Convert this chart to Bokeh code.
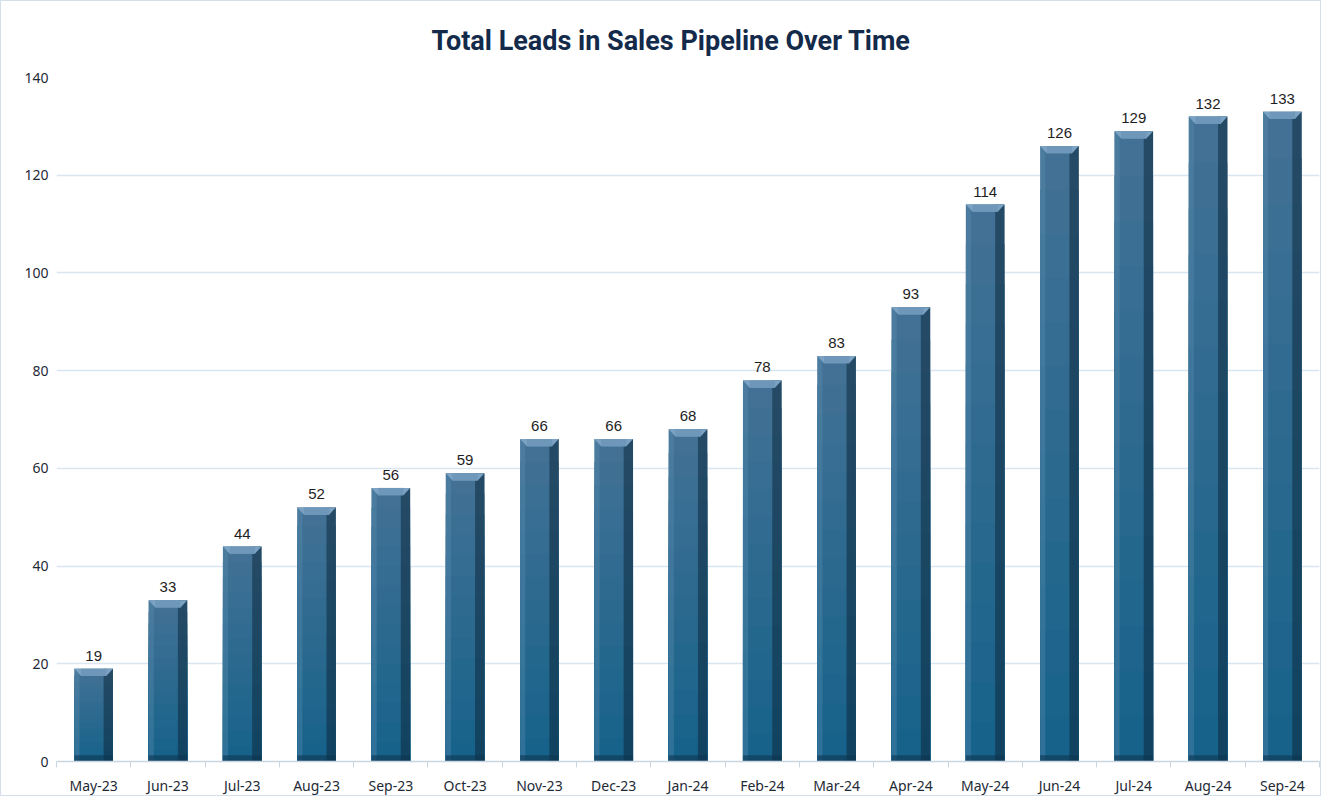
from bokeh.plotting import figure
from bokeh.models import (ColumnDataSource, Range1d, FixedTicker, LabelSet)
from bokeh.core.properties import value
from bokeh.embed import file_html
from bokeh.resources import INLINE

# ---- data ----
months = ["May-23", "Jun-23", "Jul-23", "Aug-23", "Sep-23", "Oct-23", "Nov-23",
          "Dec-23", "Jan-24", "Feb-24", "Mar-24", "Apr-24", "May-24", "Jun-24",
          "Jul-24", "Aug-24", "Sep-24"]
leads = [19, 33, 44, 52, 56, 59, 66, 66, 68, 78, 83, 93, 114, 126, 129, 132, 133]
y_ticks = [0, 20, 40, 60, 80, 100, 120, 140]

n = len(months)
xs = list(range(n))
W = 0.52          # bar width in category units
EDGE = 0.07       # side strip width
CAP = 1.5         # top bevel height (data units)
BOT = 1.3         # bottom bevel height

p = figure(width=1321, height=796, output_backend="svg", toolbar_location=None,
           x_range=Range1d(-0.5, n - 0.5), y_range=Range1d(0, 140),
           min_border_left=55, min_border_right=3, min_border_top=73,
           min_border_bottom=33)
p.title.text = "Total Leads in Sales Pipeline Over Time"
p.title.align = "left"
p.title.text_font = "Roboto"
p.title.text_font_style = "bold"
p.title.text_font_size = "27px"
p.title.text_color = "#132a4a"
p.title.offset = 375
p.title.standoff = 42

p.background_fill_color = "white"
p.border_fill_color = "white"
p.outline_line_color = None
p.styles = {"border": "1px solid #d3e0ec"}

# gradient-like bands for each bar (style only, derived from values)
bands = 14
c_bot = (0x16, 0x62, 0x8a)
c_top = (0x44, 0x72, 0x96)
for b in reversed(range(bands)):
    f1 = (b + 1) / bands
    t = (b + 0.5) / bands
    col = "#%02x%02x%02x" % tuple(int(c_bot[i] + (c_top[i] - c_bot[i]) * t) for i in range(3))
    src = ColumnDataSource(dict(x=xs, top=[v * f1 for v in leads]))
    p.vbar(x="x", top="top", bottom=0, width=W, source=src,
           fill_color=col, line_color=None)

# side strips
left_src = ColumnDataSource(dict(x=[x - W / 2 + EDGE / 2 for x in xs], top=leads))
p.vbar(x="x", top="top", bottom=0, width=EDGE, source=left_src,
       fill_color="#5b8fb3", fill_alpha=0.35, line_color=None)
right_src = ColumnDataSource(dict(x=[x + W / 2 - EDGE * 0.9 for x in xs], top=leads))
p.vbar(x="x", top="top", bottom=0, width=EDGE * 1.8, source=right_src,
       fill_color="#0d2a3e", fill_alpha=0.55, line_color=None)

# bottom bevel
p.vbar(x=xs, top=BOT, bottom=0, width=W, fill_color="#0e3550", fill_alpha=0.6, line_color=None)

# top bevel (trapezoid)
d = 0.09
cap_xs = [[x - W / 2, x + W / 2, x + W / 2 - d, x - W / 2 + d] for x in xs]
cap_ys = [[v, v, v - CAP, v - CAP] for v in leads]
p.patches(cap_xs, cap_ys, fill_color="#7ba2c2", line_color=None)
top_line = ColumnDataSource(dict(x=xs, top=leads, bottom=[v - CAP for v in leads]))
p.vbar(x="x", top="top", bottom="bottom", width=W - 2 * d, source=top_line,
       fill_color="#6e97b9", line_color=None)

# value labels
lbl = ColumnDataSource(dict(x=xs, y=leads, t=[str(v) for v in leads]))
p.add_layout(LabelSet(x="x", y="y", text="t", source=lbl, text_align="center",
                      text_baseline="bottom", y_offset=8,
                      text_font=value("Liberation Sans"),
                      text_font_size=value("15px"), text_color="#1e1e1e"))

# axes
p.xaxis.ticker = FixedTicker(ticks=xs, minor_ticks=[x - 0.5 for x in xs] + [n - 0.5])
p.xaxis.major_label_overrides = {i: m for i, m in enumerate(months)}
p.xaxis.major_tick_line_color = None
p.xaxis.minor_tick_in = 0
p.xaxis.minor_tick_out = 6
p.xaxis.minor_tick_line_color = "#c9d6e2"
p.xaxis.axis_line_color = "#c9d6e2"
p.xaxis.axis_line_width = 1.5
p.xaxis.major_label_text_font = "Noto Sans"
p.xaxis.major_label_text_font_size = "14px"
p.xaxis.major_label_text_color = "#1e2a36"
p.xaxis.major_label_standoff = 8

p.yaxis.ticker = FixedTicker(ticks=y_ticks)
p.yaxis.axis_line_color = None
p.yaxis.major_tick_line_color = None
p.yaxis.major_tick_out = 0
p.yaxis.major_tick_in = 0
p.yaxis.minor_tick_line_color = None
p.yaxis.major_label_text_font = "Noto Sans"
p.yaxis.major_label_text_font_size = "14px"
p.yaxis.major_label_text_color = "#1e2a36"
p.yaxis.major_label_standoff = 8

p.xgrid.grid_line_color = None
p.ygrid.grid_line_color = "#d9e5f0"
p.ygrid.grid_line_width = 1.5

open("out.html", "w").write(file_html(p, INLINE))
